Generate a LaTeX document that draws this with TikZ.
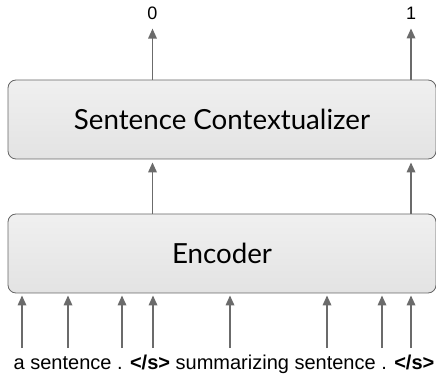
\documentclass[tikz,border=0pt]{standalone}
\usepackage{fontspec}
\setmainfont{Liberation Sans}
\newfontfamily\boxfont{Lato}
\usetikzlibrary{positioning,arrows.meta}
\begin{document}
\begin{tikzpicture}[x=1pt,y=1pt]
	\tikzstyle{layer}=[draw=black!60, line width=0.8pt, rounded corners=8pt, top color=black!6, bottom color=black!11, minimum width=428pt, minimum height=79pt, font=\boxfont\fontsize{27.7}{32}\selectfont]
	\tikzstyle{flow}=[draw=black!58, line width=1.7pt, -{Triangle[length=10pt,width=8.5pt]}]
	\tikzstyle{outlabel}=[inner sep=0pt, font=\fontsize{18}{21}\selectfont]
	\useasboundingbox (0,0) rectangle (436,380);
	\node [layer] (ctx) at (222,260.5) {Sentence Contextualizer};
	\node [layer] (enc) at (222,126.5) {Encoder};
	% outputs
	\node [outlabel] (y0) at (152.5,366.5) {0};
	\node [outlabel] (y1) at (411,366.5) {1};
	\draw [flow, shorten >=8.5pt] (ctx.north -| y0) -- (y0.south);
	\draw [flow, shorten >=8.5pt] (ctx.north -| y1) -- (y1.south);
	\draw [flow, shorten >=3pt] (enc.north -| y0) -- (ctx.south -| y0);
	\draw [flow, shorten >=3pt] (enc.north -| y1) -- (ctx.south -| y1);
	% input tokens
	\node [inner sep=0pt, anchor=base, font=\fontsize{20}{24}\selectfont] (tokens) at (224,11) {a sentence . \textbf{</s>} summarizing sentence . \textbf{</s>}};
	\foreach \x [count=\i] in {22,68,122,153,230,327,382,411} {
		\coordinate (t\i) at (\x,32);
		\draw [flow, shorten >=2pt] (t\i) -- (enc.south -| t\i);
	}
\end{tikzpicture}
\end{document}
